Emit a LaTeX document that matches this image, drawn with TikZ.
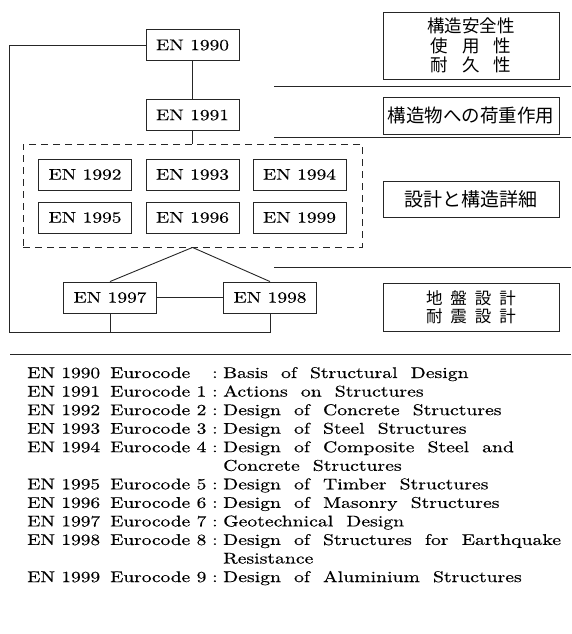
\documentclass[tikz,border=0pt]{standalone}
\usepackage{fontspec}
\setmainfont{lmroman10-regular.otf}[FakeStretch=1.25,WordSpace=1.0,FakeBold=0.4]
\newfontfamily\descf{lmroman10-regular.otf}[FakeStretch=1.27,WordSpace=2.0,FakeBold=0.4]
\newfontfamily\jp{Noto Sans CJK JP}
\begin{document}
\begin{tikzpicture}[x=1pt,y=-1pt,
  ln/.style={line width=0.9pt,draw=black!85},
  enbox/.style={ln,draw,minimum width=93pt,minimum height=31pt,inner sep=0pt,font=\fontsize{15.5}{18}\selectfont},
  jpbox/.style={ln,draw,inner sep=0pt,minimum width=176pt,align=center},
  lg/.style={anchor=base west,inner sep=0pt,font=\fontsize{15.5}{18}\selectfont},
  lgd/.style={lg,font=\descf\fontsize{15.5}{18}\selectfont}]
\useasboundingbox (0,0) rectangle (571,634);
% left structure
\node[enbox] (e1990) at (192.5,45) {EN 1990};
\node[enbox] (e1991) at (192.5,115) {EN 1991};
\node[ln,draw,dashed,dash pattern=on 7pt off 5pt,minimum width=339pt,minimum height=103pt,inner sep=0pt] (dbox) at (192.5,195.5) {};
\node[enbox] (e1992) at (85,174.5) {EN 1992};
\node[enbox] (e1993) at (192.5,174.5) {EN 1993};
\node[enbox] (e1994) at (299.5,174.5) {EN 1994};
\node[enbox] (e1995) at (85,217.5) {EN 1995};
\node[enbox] (e1996) at (192.5,217.5) {EN 1996};
\node[enbox] (e1999) at (299.5,217.5) {EN 1999};
\node[enbox] (e1997) at (110,297.5) {EN 1997};
\node[enbox] (e1998) at (270,297.5) {EN 1998};
\coordinate (lb) at (9,332);
\draw[ln] (e1990) -- (e1991);
\draw[ln] (e1991) -- (dbox.north);
\draw[ln] (dbox.south) -- (e1997.north);
\draw[ln] (dbox.south) -- (e1998.north);
\draw[ln] (e1997) -- (e1998);
\draw[ln] (e1990.west) -| (lb) -| (e1998.south);
\draw[ln] (e1997.south) -- (e1997.south |- lb);
% right side
\node[jpbox,minimum height=67pt,font=\jp\fontsize{17.5}{19.5}\selectfont] (j1) at (471,45.5)
  {構造安全性\\使\hspace{14pt}用\hspace{14pt}性\\耐\hspace{14pt}久\hspace{14pt}性};
\node[jpbox,minimum height=37pt,font=\jp\fontsize{18.5}{20}\selectfont] (j2) at (471,115.5) {構造物への荷重作用};
\node[jpbox,minimum height=36pt,font=\jp\fontsize{19}{20}\selectfont] (j3) at (471,199) {設計と構造詳細};
\node[jpbox,minimum height=48pt,font=\jp\fontsize{16.5}{18.5}\selectfont] (j4) at (471,307)
  {地\hspace{8pt}盤\hspace{8pt}設\hspace{8pt}計\\耐\hspace{8pt}震\hspace{8pt}設\hspace{8pt}計};
\coordinate (a1) at (274,86); \coordinate (b1) at (571,86);
\coordinate (a2) at (274,137); \coordinate (b2) at (571,137);
\coordinate (a3) at (274,267); \coordinate (b3) at (571,267);
\coordinate (a4) at (10,354); \coordinate (b4) at (571,354);
\draw[ln] (a1) -- (b1);
\draw[ln] (a2) -- (b2);
\draw[ln] (a3) -- (b3);
\draw[ln] (a4) -- (b4);
% legend
\foreach \k/\en/\eu/\d in {0/EN 1990/Eurocode/Basis of Structural Design,
  1/EN 1991/Eurocode 1/Actions on Structures,
  2/EN 1992/Eurocode 2/Design of Concrete Structures,
  3/EN 1993/Eurocode 3/Design of Steel Structures,
  4/EN 1994/Eurocode 4/Design of Composite Steel and,
  6/EN 1995/Eurocode 5/Design of Timber Structures,
  7/EN 1996/Eurocode 6/Design of Masonry Structures,
  8/EN 1997/Eurocode 7/Geotechnical Design,
  9/EN 1998/Eurocode 8/Design of Structures for Earthquake,
  11/EN 1999/Eurocode 9/Design of Aluminium Structures}{
  \node[lg] (n\k) at (27,378+18.55*\k) {\en};
  \node[lg] (u\k) at (110,378+18.55*\k) {\eu};
  \node[lg] (c\k) at (212,378+18.55*\k) {:};
  \node[lgd] (d\k) at (223,378+18.55*\k) {\d};
}
\node[lgd] (d5) at (223,378+18.55*5) {Concrete Structures};
\node[lgd] (d10) at (223,378+18.55*10) {Resistance};
\end{tikzpicture}
\end{document}
